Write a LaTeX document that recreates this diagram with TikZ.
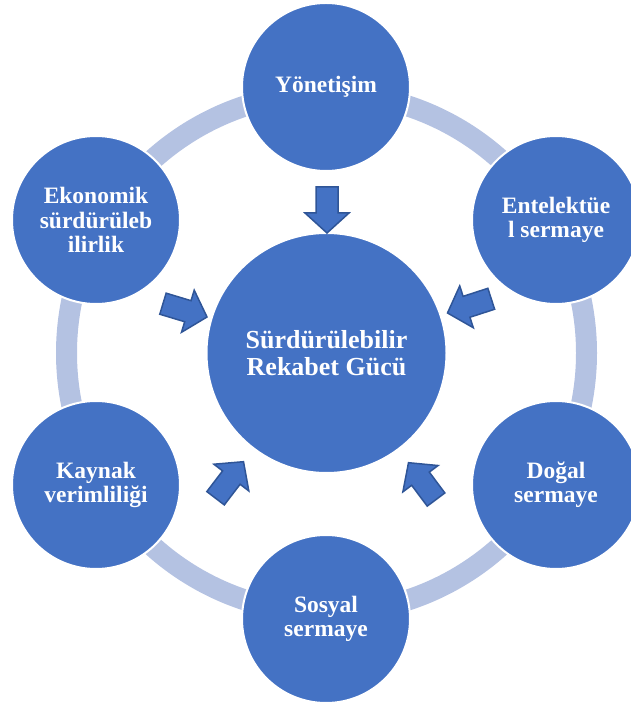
\documentclass[tikz,border=0pt]{standalone}
\usepackage{fontspec}
\setmainfont{Liberation Serif}
\definecolor{circblue}{HTML}{4472C4}
\definecolor{ringblue}{HTML}{B4C2E2}
\definecolor{arrowedge}{HTML}{2F5597}
\tikzset{
  outer/.style={circle, fill=circblue, draw=white, line width=2pt, minimum size=168pt, inner sep=0pt,
    text=white, align=center, font=\bfseries\fontsize{23.5}{24.5}\selectfont},
  center/.style={circle, fill=circblue, draw=white, line width=2pt, minimum size=240pt, inner sep=0pt,
    text=white, align=center, font=\bfseries\fontsize{26}{27.5}\selectfont},
  blockarrow/.style={fill=circblue, draw=arrowedge, line width=1.5pt, line join=miter},
  ring/.style={draw=ringblue, line width=21pt}
}
\newcommand\myblockarrow[3]{%
  \draw[blockarrow, shift={(#1,#2)}, rotate=#3] (0,0) -- (-20,22) -- (-20,11) -- (-46,11) -- (-46,-11) -- (-20,-11) -- (-20,-22) -- cycle;}
\begin{document}
\begin{tikzpicture}[x=1pt,y=1pt]
\useasboundingbox (0,0) rectangle (631,707);
\coordinate (c) at (326.5,354);
\draw[ring] (c) circle[radius=260];
\node[outer] (yon) at (326,620) {Yönetişim};
\node[outer] (ent) at (556,487) {Entelektüe\\l sermaye};
\node[outer] (dog) at (556,222) {Doğal\\sermaye};
\node[outer] (sos) at (326,88) {Sosyal\\sermaye};
\node[outer] (kay) at (96,222) {Kaynak\\verimliliği};
\node[outer] (eko) at (96,487) {Ekonomik\\sürdürüleb\\ilirlik};
\node[center] (mid) at (c) {Sürdürülebilir\\Rekabet Gücü};
\myblockarrow{327}{474}{-90}
\myblockarrow{207}{390}{-16.8}
\myblockarrow{447.5}{394}{198}
\myblockarrow{243.5}{245.3}{52.6}
\myblockarrow{408.5}{244.3}{126.8}
\end{tikzpicture}
\end{document}
